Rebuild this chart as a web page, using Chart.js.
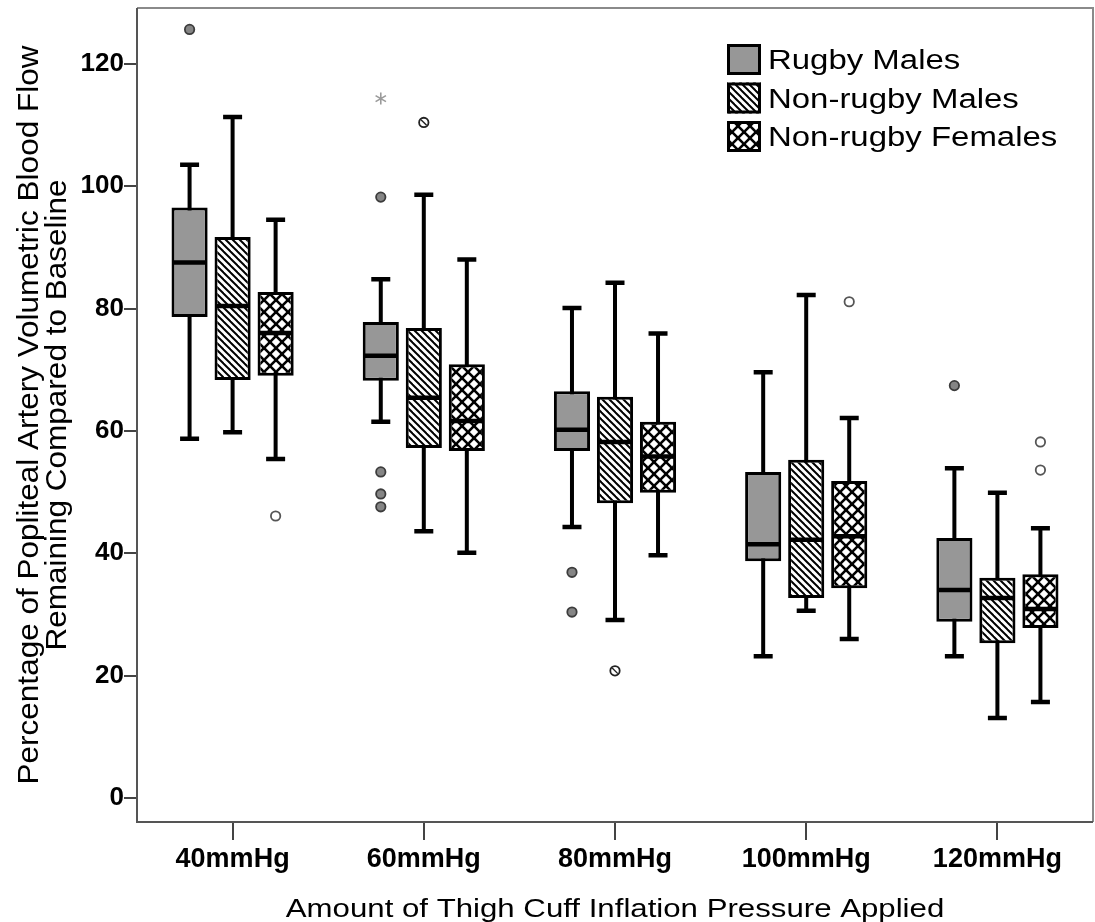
<!DOCTYPE html>
<html>
<head>
<meta charset="utf-8">
<script src="https://cdn.jsdelivr.net/npm/chart.js@4.4.1/dist/chart.umd.min.js"></script>
<style>
  html, body { margin: 0; padding: 0; background: #fff; }
  #wrap { width: 1095px; height: 922px; }
</style>
</head>
<body>
<div id="wrap"><canvas id="box"></canvas></div>
<script>
const pressures = ['40mmHg', '60mmHg', '80mmHg', '100mmHg', '120mmHg'];
const groups = ['Rugby Males', 'Non-rugby Males', 'Non-rugby Females'];
const xTitle = 'Amount of Thigh Cuff Inflation Pressure Applied';
const yTitle = ['Percentage of Popliteal Artery Volumetric Blood Flow', 'Remaining Compared to Baseline'];

// [low whisker, Q1, median, Q3, high whisker] for each pressure
const rugbyMales = [
  [58.7, 78.6, 87.5, 96.5, 103.5],
  [61.5, 68.2, 72.3, 77.8, 84.8],
  [44.3, 56.7, 60.2, 66.5, 80.1],
  [23.2, 38.7, 41.5, 53.3, 69.6],
  [23.2, 28.8, 34.0, 42.5, 53.9]
];
const nonRugbyMales = [
  [59.8, 68.3, 80.4, 91.7, 111.3],
  [43.6, 57.2, 65.4, 76.8, 98.6],
  [29.1, 48.2, 58.2, 65.6, 84.2],
  [30.6, 32.7, 42.2, 55.3, 82.2],
  [13.1, 25.3, 32.7, 36.0, 49.9]
];
const nonRugbyFemales = [
  [55.4, 69.0, 76.0, 82.7, 94.5],
  [40.1, 56.7, 61.6, 70.9, 88.0],
  [39.7, 49.9, 55.8, 61.5, 75.9],
  [26.0, 34.3, 42.8, 51.8, 62.1],
  [15.7, 27.8, 30.9, 36.6, 44.1]
];

// outliers (circles) and extremes (stars) for each pressure
const rugbyMalesOut = [[125.6], [98.2, 53.3, 49.7, 47.6], [36.9, 30.4], [], [67.4]];
const rugbyMalesExtreme = [[], [114.3], [], [], []];
const nonRugbyMalesOut = [[], [110.4], [20.8], [], []];
const nonRugbyMalesExtreme = [[], [], [], [], []];
const nonRugbyFemalesOut = [[46.1], [], [], [81.1], [58.2, 53.6]];
const nonRugbyFemalesExtreme = [[], [], [], [], []];

const yTicks = [0, 20, 40, 60, 80, 100, 120];

const FONT = '"Liberation Sans", Arial, sans-serif';
Chart.defaults.font.family = FONT;
Chart.defaults.color = '#000';

function hatch(gap, width, cross) {
  const c = document.createElement('canvas');
  c.width = gap; c.height = gap;
  const g = c.getContext('2d');
  g.fillStyle = '#fff';
  g.fillRect(0, 0, gap, gap);
  g.strokeStyle = '#000';
  g.lineWidth = width;
  for (let k = -1; k <= 1; k++) {
    g.beginPath();
    g.moveTo(k * gap - 1, -1);
    g.lineTo(k * gap + gap + 1, gap + 1);
    g.stroke();
    if (cross) {
      g.beginPath();
      g.moveTo(k * gap - 1, gap + 1);
      g.lineTo(k * gap + gap + 1, -1);
      g.stroke();
    }
  }
  return g.createPattern(c, 'repeat');
}

const ctx = document.getElementById('box');
const fills = ['#979797', hatch(7, 2, false), hatch(12, 2.6, true)];

function marker(g, kind, x, y) {
  g.save();
  if (kind === 'star') {
    g.strokeStyle = '#9a9a9a';
    g.lineWidth = 1.6;
    g.beginPath();
    for (let a = 0; a < 3; a++) {
      const t = Math.PI / 2 + a * Math.PI / 3;
      g.moveTo(x - 6 * Math.cos(t), y - 6 * Math.sin(t));
      g.lineTo(x + 6 * Math.cos(t), y + 6 * Math.sin(t));
    }
    g.stroke();
    g.restore();
    return;
  }
  g.beginPath();
  g.arc(x, y, 4.7, 0, Math.PI * 2);
  g.lineWidth = 1.8;
  if (kind === 0) { g.fillStyle = '#858585'; g.strokeStyle = '#3c3c3c'; }
  else if (kind === 1) { g.fillStyle = '#fff'; g.strokeStyle = '#222'; }
  else { g.fillStyle = '#fff'; g.strokeStyle = '#555'; }
  g.fill();
  g.stroke();
  if (kind === 1) {
    g.beginPath();
    g.moveTo(x - 2.8, y - 2.8);
    g.lineTo(x + 2.8, y + 2.8);
    g.lineWidth = 1.4;
    g.stroke();
  }
  g.restore();
}

// text stretched along its direction, like the wide sans in the original
function wideText(g, text, x, y, size, stretch, rot) {
  g.save();
  g.translate(x, y);
  g.rotate(rot);
  g.scale(stretch, 1);
  g.font = size + 'px ' + FONT;
  g.fillStyle = '#000';
  g.textAlign = 'center';
  g.textBaseline = 'alphabetic';
  g.fillText(text, 0, 0);
  g.restore();
}

const boxParts = {
  id: 'boxParts',
  beforeDatasetsDraw(chart) {
    const g = chart.ctx, y = chart.scales.y;
    chart.data.datasets.forEach((ds, i) => {
      chart.getDatasetMeta(i).data.forEach((bar, j) => {
        const s = ds.stats[j];
        g.save();
        g.strokeStyle = '#000';
        g.lineWidth = 4;
        g.beginPath();
        g.moveTo(bar.x, y.getPixelForValue(s[0]));
        g.lineTo(bar.x, y.getPixelForValue(s[4]));
        g.stroke();
        g.lineWidth = 4.5;
        g.beginPath();
        [s[0], s[4]].forEach(v => {
          const py = y.getPixelForValue(v);
          g.moveTo(bar.x - 9.5, py);
          g.lineTo(bar.x + 9.5, py);
        });
        g.stroke();
        g.restore();
      });
    });
  },
  afterDatasetsDraw(chart) {
    const g = chart.ctx, y = chart.scales.y;
    chart.data.datasets.forEach((ds, i) => {
      chart.getDatasetMeta(i).data.forEach((bar, j) => {
        const s = ds.stats[j];
        const half = bar.width / 2;
        const py = y.getPixelForValue(s[2]);
        g.save();
        g.strokeStyle = '#000';
        g.lineWidth = 4.5;
        g.beginPath();
        g.moveTo(bar.x - half + 1, py);
        g.lineTo(bar.x + half - 1, py);
        g.stroke();
        g.restore();
        ds.outliers[j].forEach(v => marker(g, i, bar.x, y.getPixelForValue(v)));
        ds.extremes[j].forEach(v => marker(g, 'star', bar.x, y.getPixelForValue(v)));
      });
    });
  },
  afterDraw(chart) {
    const g = chart.ctx, a = chart.chartArea;
    g.save();
    g.lineWidth = 2;
    g.strokeStyle = '#8a8a8a';
    g.beginPath();
    g.moveTo(a.left, a.top); g.lineTo(a.right, a.top); g.lineTo(a.right, a.bottom);
    g.stroke();
    g.strokeStyle = '#555';
    g.beginPath();
    g.moveTo(a.left, a.top); g.lineTo(a.left, a.bottom); g.lineTo(a.right, a.bottom);
    g.stroke();

    // axis titles
    const cy = (a.top + a.bottom) / 2;
    wideText(g, yTitle[0], 38, cy, 30, 1.05, -Math.PI / 2);
    wideText(g, yTitle[1], 66, cy, 30, 1.05, -Math.PI / 2);
    wideText(g, xTitle, (a.left + a.right) / 2, 917, 26, 1.2, 0);

    // legend
    const lx = a.right - 366, ly = a.top + 36;
    chart.data.datasets.forEach((ds, i) => {
      const top = ly + i * 38.5;
      g.fillStyle = ds.backgroundColor;
      g.fillRect(lx, top, 34, 31);
      g.lineWidth = 3;
      g.strokeStyle = '#000';
      g.strokeRect(lx + 1.5, top + 1.5, 31, 28);
      g.save();
      g.translate(lx + 41, top + 25);
      g.scale(1.22, 1);
      g.fillStyle = '#000';
      g.font = '27px ' + FONT;
      g.textBaseline = 'alphabetic';
      g.fillText(ds.label, 0, 0);
      g.restore();
    });
    g.restore();
  }
};

new Chart(ctx, {
  type: 'bar',
  data: {
    labels: pressures,
    datasets: [
      { label: groups[0], data: rugbyMales.map(s => [s[1], s[3]]), stats: rugbyMales,
        outliers: rugbyMalesOut, extremes: rugbyMalesExtreme, backgroundColor: fills[0] },
      { label: groups[1], data: nonRugbyMales.map(s => [s[1], s[3]]), stats: nonRugbyMales,
        outliers: nonRugbyMalesOut, extremes: nonRugbyMalesExtreme, backgroundColor: fills[1] },
      { label: groups[2], data: nonRugbyFemales.map(s => [s[1], s[3]]), stats: nonRugbyFemales,
        outliers: nonRugbyFemalesOut, extremes: nonRugbyFemalesExtreme, backgroundColor: fills[2] }
    ]
  },
  options: {
    responsive: true,
    maintainAspectRatio: false,
    animation: false,
    layout: { padding: { top: 8, right: 2, left: 0, bottom: 0 } },
    plugins: { legend: { display: false }, tooltip: { enabled: false } },
    datasets: {
      bar: {
        categoryPercentage: 0.675,
        barPercentage: 0.84,
        borderWidth: 3,
        borderColor: '#000',
        borderSkipped: false
      }
    },
    scales: {
      x: {
        grid: { drawOnChartArea: false, offset: false, tickLength: 18, color: '#444', lineWidth: 2 },
        border: { display: false },
        ticks: { font: { size: 27, weight: 'bold' }, padding: 3, maxRotation: 0 },
        afterFit(scale) { scale.height = 100; scale.paddingLeft = 0; scale.paddingRight = 0; }
      },
      y: {
        min: -3.9,
        max: 129.1,
        afterBuildTicks(scale) { scale.ticks = yTicks.map(v => ({ value: v })); },
        grid: { drawOnChartArea: false, tickLength: 13, color: '#444', lineWidth: 2 },
        border: { display: false },
        ticks: { font: { size: 26, weight: 'bold' }, padding: 0 },
        afterFit(scale) { scale.width = 137; scale.paddingTop = 0; scale.paddingBottom = 0; }
      }
    }
  },
  plugins: [boxParts]
});
</script>
</body>
</html>
